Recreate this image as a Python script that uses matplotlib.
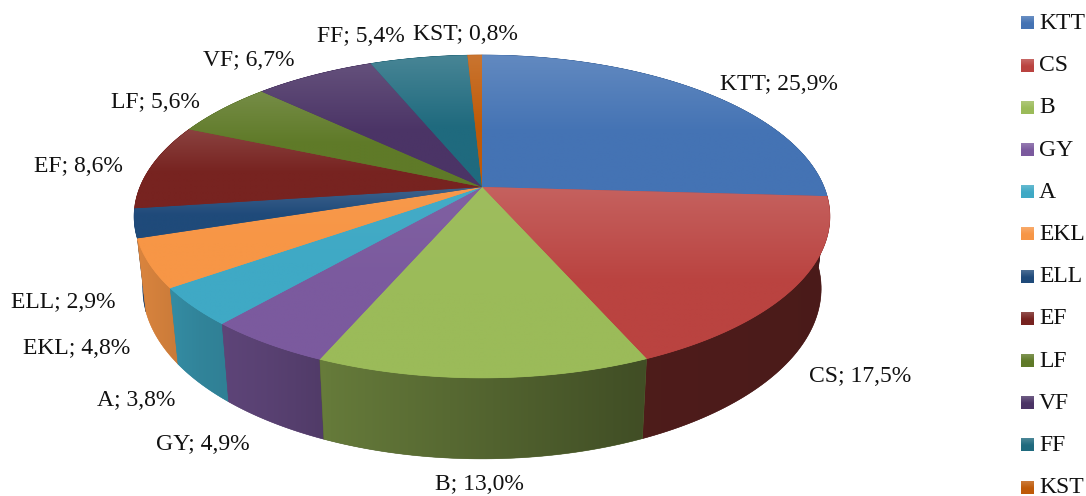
"""
Pizza 3D com perspectiva: a geometria sai dos valores, projetada em pixels.
"""
import numpy as np
import matplotlib
matplotlib.use("Agg")
import matplotlib.pyplot as plt
from matplotlib.colors import to_rgb
from matplotlib.patches import Polygon

plt.rcParams["font.family"] = ["Liberation Serif", "DejaVu Serif"]

categorias = ["KTT", "CS", "B", "GY", "A", "EKL", "ELL", "EF", "LF", "VF", "FF", "KST"]
valores = [25.9, 17.5, 13.0, 4.9, 3.8, 4.8, 2.9, 8.6, 5.6, 6.7, 5.4, 0.8]
cores = ["#4473B4", "#BA4340", "#9BBB59", "#7B5A9E", "#3FA9C5", "#F79646",
         "#1F4A7A", "#772320", "#5F7A28", "#4B3466", "#1F6A7E", "#BF5A08"]

# brilho no alto de cada fatia
brilho = [0.16, 0.16, 0.03, 0.04, 0.03, 0.03, 0.14, 0.14, 0.14, 0.14, 0.18, 0.16]

# centro de cada rótulo, em pixels
pos_rotulos = [(779, 84), (860, 376), (479, 485), (203, 445), (136, 400), (77, 349),
               (63, 302), (78, 167), (155, 102), (249, 61), (361, 37), (465, 35)]

# parâmetros da projeção
CX, CY = 482, 187
A, B, K = 342, 156, 0.1827
FONTE = 17


def projeta(ang):
    # ang em radianos, sentido horário a partir do topo
    u, v = np.sin(ang), np.cos(ang)
    d = 1 + K * v
    return CX + A * u / d, CY - B * v / d


def base(x, y):
    # aresta inferior da parede lateral
    return CX + (x - CX) * 0.975, y + 70.5 + 0.055 * (y - CY)


def sombra_parede(x):
    return np.interp(x, [140, 200, 270, 330, 640, 830], [0.88, 0.78, 0.72, 0.65, 0.42, 0.40])


def preenche(ax, pontos, img, extent, zorder):
    p = Polygon(pontos, closed=True, transform=ax.transData, facecolor="none", edgecolor="none")
    ax.add_patch(p)
    im = ax.imshow(img, extent=extent, aspect="auto", zorder=zorder, interpolation="bilinear")
    im.set_clip_path(p)


def gradiente_topo(cor, forca, n=64):
    # branco no alto, sumindo até a metade da altura
    rgb = np.array(to_rgb(cor))
    t = np.clip(1 - np.linspace(0, 1, n) / 0.55, 0, 1) * forca
    return (rgb[None, :] * (1 - t[:, None]) + t[:, None])[:, None, :]


fig = plt.figure(figsize=(10.86, 4.96), dpi=100)
ax = fig.add_axes([0, 0, 1, 1])
ax.axis("off")

fracoes = np.array(valores) / sum(valores)
limites = np.concatenate([[0], np.cumsum(fracoes)]) * 2 * np.pi

# paredes: de trás para a frente, o topo cobre o que sobra atrás
meios = (limites[:-1] + limites[1:]) / 2
ordem = np.argsort(-np.cos(meios))
for n, i in enumerate(ordem):
    cor = cores[i]
    ang = np.linspace(limites[i], limites[i + 1], 60)
    x, y = projeta(ang)
    xb, yb = base(x, y)
    pontos = np.column_stack([np.concatenate([x, xb[::-1]]), np.concatenate([y, yb[::-1]])])
    z = 2 + n * 0.01
    ax.fill(pontos[:, 0], pontos[:, 1], color=np.array(to_rgb(cor)) * sombra_parede(x.mean()),
            lw=0.4, zorder=z)
    x0, x1 = pontos[:, 0].min(), pontos[:, 0].max()
    xs = np.linspace(x0, x1, 64)
    img = (np.array(to_rgb(cor))[None, :] * sombra_parede(xs)[:, None])[None, :, :]
    preenche(ax, pontos, img, (x0, x1, pontos[:, 1].max(), pontos[:, 1].min()), z + 0.005)

# topo
for i, cor in enumerate(cores):
    ang = np.linspace(limites[i], limites[i + 1], 120)
    x, y = projeta(ang)
    pontos = np.column_stack([np.append(x, CX), np.append(y, CY)])
    ax.fill(pontos[:, 0], pontos[:, 1], color=cor, lw=0.5, zorder=4)
    y0, y1 = pontos[:, 1].min(), pontos[:, 1].max()
    preenche(ax, pontos, gradiente_topo(cor, brilho[i]),
             (pontos[:, 0].min(), pontos[:, 0].max(), y1, y0), 5)

# rótulos
for nome, val, (xt, yt) in zip(categorias, valores, pos_rotulos):
    txt = f"{nome}; {val:.1f}%".replace(".", ",")
    ax.text(xt, yt, txt, ha="center", va="center", fontsize=FONTE, color="#111111", zorder=6)

# legenda
ys_leg = 23 + 42.2 * np.arange(len(categorias))
for nome, cor, yl in zip(categorias, cores, ys_leg):
    ax.imshow(gradiente_topo(cor, 0.2), extent=(1021, 1034, yl + 6.5, yl - 6.5),
              aspect="auto", zorder=5)
    ax.text(1039, yl + 6, nome, ha="left", va="baseline", fontsize=FONTE, color="#111111", zorder=6)

ax.set_xlim(0, 1086)
ax.set_ylim(496, 0)
fig.savefig("out.png", dpi=100, facecolor="white")
